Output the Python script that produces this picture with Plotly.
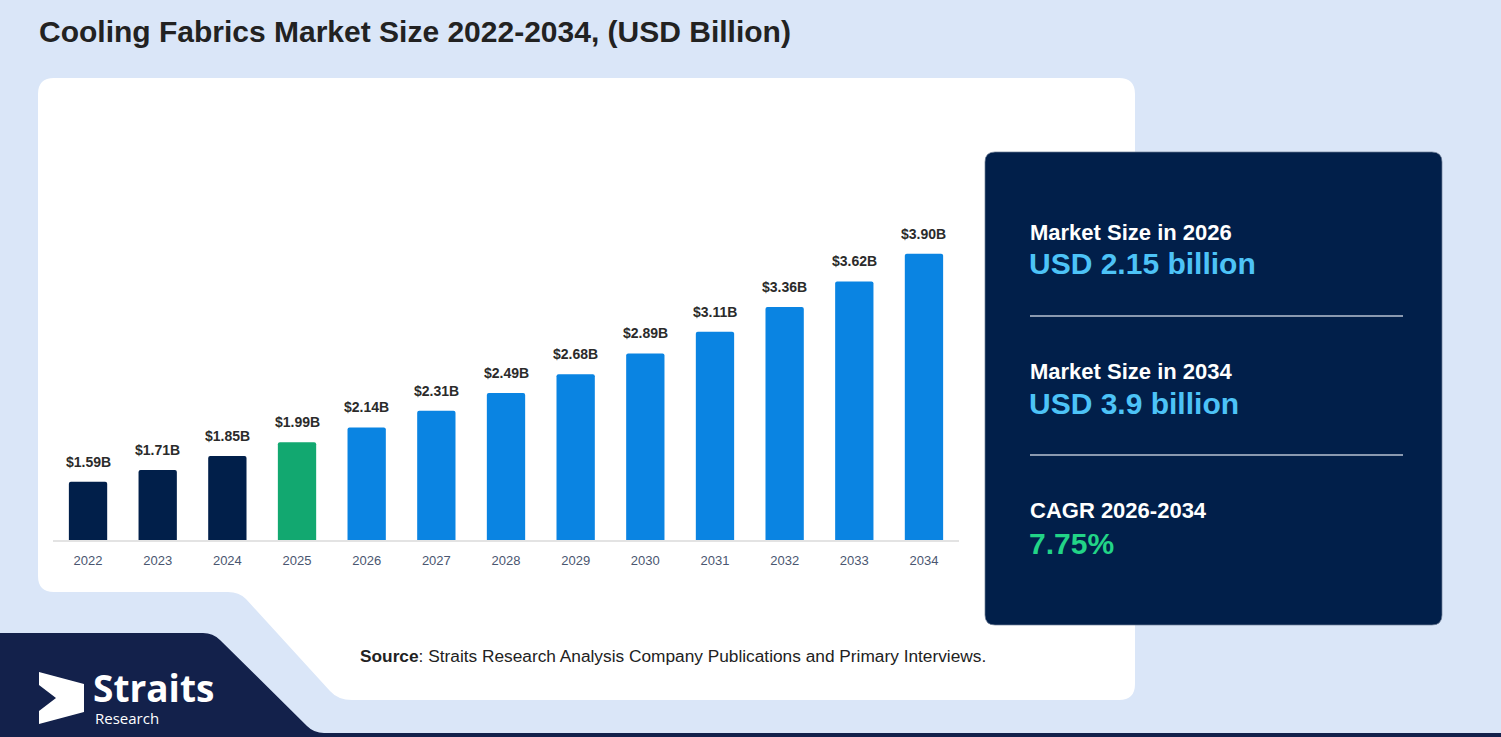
import plotly.graph_objects as go

W, H = 1501, 737

# ---- data ----
years = ['2022', '2023', '2024', '2025', '2026', '2027', '2028', '2029', '2030', '2031', '2032', '2033', '2034']
values = [1.59, 1.71, 1.85, 1.99, 2.14, 2.31, 2.49, 2.68, 2.89, 3.11, 3.36, 3.62, 3.90]
value_labels = ['$%.2fB' % v for v in values]
base_year = '2025'

title_text = 'Cooling Fabrics Market Size 2022-2034, (USD Billion)'
panel_titles = ['Market Size in 2026', 'Market Size in 2034', 'CAGR 2026-2034']
panel_values = ['USD 2.15 billion', 'USD 3.9 billion', '7.75%']
source_text = '<b>Source</b>: Straits Research Analysis Company Publications and Primary Interviews.'

# ---- style ----
BG = '#DAE6F8'
NAVY = '#011F4A'
GREEN = '#12A870'
BLUE = '#0A84E2'
FONT = 'Liberation Sans, Arial, sans-serif'


def X(x):
    return x / W


def Y(y):
    return 1 - y / H


def path(pts):
    out = []
    for cmd, *coords in pts:
        vals = []
        for i in range(0, len(coords), 2):
            vals.append('%.5f,%.5f' % (X(coords[i]), Y(coords[i + 1])))
        out.append(cmd + ' ' + ' '.join(vals))
    return ' '.join(out) + ' Z'


bar_colors = []
for y in years:
    if int(y) < int(base_year):
        bar_colors.append(NAVY)
    elif y == base_year:
        bar_colors.append(GREEN)
    else:
        bar_colors.append(BLUE)

fig = go.Figure()
fig.add_trace(go.Bar(
    x=years, y=values, marker=dict(color=bar_colors, line=dict(width=0), cornerradius=2),
    width=0.55, hoverinfo='skip', showlegend=False,
))

shapes = []
# white card with notch
card = path([
    ('M', 54, 78), ('L', 1119, 78), ('Q', 1135, 78, 1135, 94), ('L', 1135, 684),
    ('Q', 1135, 700, 1119, 700), ('L', 352, 700), ('Q', 338, 700, 330, 691),
    ('L', 246, 599), ('Q', 239, 592, 228, 592), ('L', 54, 592),
    ('Q', 38, 592, 38, 576), ('L', 38, 94), ('Q', 38, 78, 54, 78),
])
shapes.append(dict(type='path', path=card, xref='paper', yref='paper',
                   fillcolor='white', line=dict(width=0), layer='below'))
# navy bottom-left shape
navy = path([
    ('M', 0, 633), ('L', 203, 633), ('Q', 213, 633, 220, 640), ('L', 307, 726),
    ('Q', 314, 733, 324, 733), ('L', 1501, 733), ('L', 1501, 737), ('L', 0, 737),
])
shapes.append(dict(type='path', path=navy, xref='paper', yref='paper',
                   fillcolor='#13214B', line=dict(width=0), layer='below'))
# right panel
panel = path([
    ('M', 995, 152), ('L', 1432, 152), ('Q', 1442, 152, 1442, 162), ('L', 1442, 615),
    ('Q', 1442, 625, 1432, 625), ('L', 995, 625), ('Q', 985, 625, 985, 615),
    ('L', 985, 162), ('Q', 985, 152, 995, 152),
])
shapes.append(dict(type='path', path=panel, xref='paper', yref='paper',
                   fillcolor=NAVY, line=dict(width=1, color='rgba(110,125,150,0.7)'), layer='below'))
for ly in [316, 455]:
    shapes.append(dict(type='line', xref='paper', yref='paper', x0=X(1030), x1=X(1403),
                       y0=Y(ly), y1=Y(ly), line=dict(color='#B9C3D3', width=1.5)))
# logo mark
logo = path([
    ('M', 39, 672), ('L', 84, 684), ('L', 84, 712), ('L', 39, 724), ('L', 39, 711),
    ('L', 56, 698), ('L', 39, 685),
])
shapes.append(dict(type='path', path=logo, xref='paper', yref='paper',
                   fillcolor='white', line=dict(width=0)))

annotations = []
annotations.append(dict(text='<b>%s</b>' % title_text, x=X(37), y=Y(31), xref='paper', yref='paper',
                        xanchor='left', yanchor='middle', showarrow=False,
                        font=dict(family=FONT, size=30, color='#222222')))
for i, (v, lab) in enumerate(zip(values, value_labels)):
    annotations.append(dict(text='<b>%s</b>' % lab, x=i, y=v, xref='x', yref='y',
                            xanchor='center', yanchor='bottom', yshift=10, showarrow=False,
                            font=dict(family=FONT, size=14, color='#2B2B2B')))
title_y = [232, 371, 511]
value_y = [264, 404, 543]
value_colors = ['#4DC3F7', '#4DC3F7', '#22D487']
for t, v, ty, vy, vc in zip(panel_titles, panel_values, title_y, value_y, value_colors):
    annotations.append(dict(text='<b>%s</b>' % t, x=X(1028), y=Y(ty), xref='paper', yref='paper',
                            xanchor='left', yanchor='middle', showarrow=False,
                            font=dict(family=FONT, size=22, color='white')))
    annotations.append(dict(text='<b>%s</b>' % v, x=X(1027), y=Y(vy), xref='paper', yref='paper',
                            xanchor='left', yanchor='middle', showarrow=False,
                            font=dict(family=FONT, size=30, color=vc)))
annotations.append(dict(text=source_text, x=X(358), y=Y(656), xref='paper', yref='paper',
                        xanchor='left', yanchor='middle', showarrow=False,
                        font=dict(family=FONT, size=17.3, color='#222222')))
annotations.append(dict(text='<b>Straits</b>', x=X(92), y=Y(687), xref='paper', yref='paper',
                        xanchor='left', yanchor='middle', showarrow=False, borderpad=0,
                        font=dict(family='Open Sans, sans-serif', size=37, color='white')))
annotations.append(dict(text='Research', x=X(94), y=Y(718), xref='paper', yref='paper',
                        xanchor='left', yanchor='middle', showarrow=False, borderpad=0,
                        font=dict(family='Open Sans, sans-serif', size=15, color='white')))

px_per_unit = 98.7
y_base_px, y_top_px = 540, 120
y_min = 1.0
y_max = y_min + (y_base_px - y_top_px) / px_per_unit

fig.update_layout(
    width=W, height=H, margin=dict(l=0, r=0, t=0, b=0, pad=0),
    paper_bgcolor=BG, plot_bgcolor='rgba(0,0,0,0)',
    shapes=shapes, annotations=annotations, bargap=0.45,
    xaxis=dict(domain=[X(53.2), X(958.8)], type='category', range=[-0.5, len(years) - 0.5],
               automargin=False, showgrid=False, zeroline=False,
               showline=True, linecolor='#E3E3E3', linewidth=1.5, ticks='',
               ticklabelstandoff=8,
               tickfont=dict(family=FONT, size=13, color='#4A5670'), fixedrange=True),
    yaxis=dict(domain=[Y(y_base_px), Y(y_top_px)], range=[y_min, y_max], visible=False,
               automargin=False, fixedrange=True),
)

fig.write_html('out.html', config={'displayModeBar': False},
               post_script="document.body.style.margin='0';document.body.style.overflow='hidden';")
